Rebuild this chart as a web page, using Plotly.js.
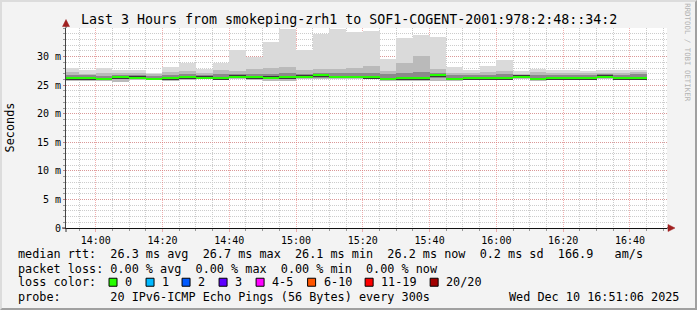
<!DOCTYPE html>
<html>
<head>
<meta charset="utf-8">
<script src="https://cdn.plot.ly/plotly-3.0.1.min.js"></script>
<style>
  html, body { margin: 0; padding: 0; background: #f3f3f3; }
  #wrap { position: relative; width: 697px; height: 310px; }
  #chart { width: 697px; height: 310px; }
  #frame { position: absolute; left: 0; top: 0; width: 697px; height: 310px; box-sizing: border-box;
           border-left: 2px solid #dcdcdc; border-top: 2px solid #dcdcdc;
           border-right: 2px solid #a0a0a0; border-bottom: 2px solid #a0a0a0; pointer-events: none; }
</style>
</head>
<body>
<div id="wrap"><div id="chart"></div><div id="frame"></div></div>
<script>
// ---- data (ms); each value covers the 5 minutes ending at the timestamp ----
const times = [
  "2025-12-10 13:55","2025-12-10 14:00","2025-12-10 14:05","2025-12-10 14:10","2025-12-10 14:15",
  "2025-12-10 14:20","2025-12-10 14:25","2025-12-10 14:30","2025-12-10 14:35","2025-12-10 14:40",
  "2025-12-10 14:45","2025-12-10 14:50","2025-12-10 14:55","2025-12-10 15:00","2025-12-10 15:05",
  "2025-12-10 15:10","2025-12-10 15:15","2025-12-10 15:20","2025-12-10 15:25","2025-12-10 15:30",
  "2025-12-10 15:35","2025-12-10 15:40","2025-12-10 15:45","2025-12-10 15:50","2025-12-10 15:55",
  "2025-12-10 16:00","2025-12-10 16:05","2025-12-10 16:10","2025-12-10 16:15","2025-12-10 16:20",
  "2025-12-10 16:25","2025-12-10 16:30","2025-12-10 16:35","2025-12-10 16:40","2025-12-10 16:45"
];
const pingMax = [28.0,27.6,28.0,27.6,27.6,27.2,28.1,28.9,27.8,28.9,31.1,30.0,32.5,34.8,31.1,34.0,34.9,34.3,34.4,29.5,33.2,33.7,33.4,28.1,27.7,28.3,29.4,27.4,27.8,27.7,27.6,27.4,27.6,27.6,27.6];
const pingP90 = [27.3,27.0,27.2,27.1,27.2,26.9,27.3,27.5,27.2,27.6,27.5,27.8,28.0,28.1,27.6,27.8,27.9,28.0,28.3,27.4,28.9,30.1,27.8,27.2,27.2,27.3,27.5,27.0,27.3,27.2,27.2,27.1,27.1,27.2,27.3];
const pingP75 = [26.8,26.7,26.6,26.8,26.8,26.6,26.8,27.0,26.8,27.0,27.0,27.0,27.0,27.1,26.9,27.2,27.2,27.2,27.1,26.9,27.2,27.3,27.2,26.8,26.8,26.8,26.9,26.7,26.8,26.8,26.8,26.7,26.9,26.8,26.9];
const medianRtt = [26.2,26.2,26.1,26.4,26.3,26.1,26.2,26.4,26.3,26.2,26.5,26.4,26.3,26.4,26.5,26.7,26.45,26.45,26.4,26.1,26.2,26.2,26.7,26.1,26.2,26.2,26.2,26.5,26.1,26.2,26.2,26.2,26.5,26.2,26.2];
const pingP25 = [26.0,26.0,25.9,26.1,26.1,26.0,26.0,26.1,26.1,26.0,26.2,26.1,26.0,26.1,26.2,26.3,26.2,26.2,26.1,25.9,26.0,26.0,26.2,25.9,26.0,26.0,26.0,26.2,25.9,26.0,26.0,26.0,26.2,26.0,26.0];
const pingMin = [25.7,25.8,25.8,25.6,25.9,25.9,25.7,25.9,26.0,25.9,26.0,25.9,25.8,25.8,26.0,26.0,26.0,26.0,26.0,25.7,25.8,25.8,25.7,25.8,25.9,25.9,25.9,26.0,25.8,25.9,25.9,25.9,26.0,25.9,25.9];

const yTickVals = [0,5,10,15,20,25,30];
const yTickText = ["0","5 m","10 m","15 m","20 m","25 m","30 m"];

const titleText = "Last 3 Hours from smokeping-zrh1 to SOF1-COGENT-2001:978:2:48::34:2";
const legendRows = [
  "median rtt:  26.3 ms avg  26.7 ms max  26.1 ms min  26.2 ms now  0.2 ms sd  166.9   am/s",
  "packet loss: 0.00 % avg  0.00 % max  0.00 % min  0.00 % now",
  "loss color:",
  "probe:       20 IPv6-ICMP Echo Pings (56 Bytes) every 300s"
];
const lossLabels = ["0","1","2","3","4-5","6-10","11-19","20/20"];
const lossColors = ["#26ff00","#00b8ff","#0059ff","#5e00ff","#ff00ff","#ff5500","#ff0000","#a10000"];
const stampText = "Wed Dec 10 16:51:06 2025";

// ---- geometry helpers (pixel -> paper) ----
const PL = 66, PR = 666.75, PT = 27.5, PB = 227.7;
const px = x => (x - PL) / (PR - PL);
const py = y => (PB - y) / (PB - PT);
const MONO = "DejaVu Sans Mono";
const nb = s => s.replace(/ /g, "\u00a0");

const STEP = 300000;
function band(lo, hi, color) {
  return {
    type: "bar", x: times, base: lo, y: hi.map((h, i) => h - lo[i]),
    width: STEP, offset: -STEP, marker: { color: color, line: { width: 0 } },
    hoverinfo: "skip", showlegend: false
  };
}
const GH = 0.17;
const traces = [
  band(pingMin, pingMax, "#dadada"),
  band(pingMin, pingP90, "#bababa"),
  band(pingP25, pingP75, "#8a8a8a"),
  band(medianRtt.map(v => v - GH - 0.08), medianRtt.map(v => v + GH + 0.05), "#3a3a3a"),
  band(medianRtt.map(v => v - GH), medianRtt.map(v => v + GH), lossColors[0])
];

const annotations = [];
annotations.push({ xref: "paper", yref: "paper", x: px(348.5), y: py(19), text: titleText,
  showarrow: false, xanchor: "center", yanchor: "middle", font: { family: MONO, size: 13.3, color: "#000" } });
annotations.push({ xref: "paper", yref: "paper", x: px(10), y: py(127), text: "Seconds", textangle: -90,
  showarrow: false, xanchor: "center", yanchor: "middle", font: { family: MONO, size: 11.8, color: "#000" } });
annotations.push({ xref: "paper", yref: "paper", x: px(687), y: py(52), text: "RRDTOOL / TOBI OETIKER", textangle: 90,
  showarrow: false, xanchor: "center", yanchor: "middle", font: { family: MONO, size: 7.4, color: "#b4b4b4" } });
const rowY = [253.5, 268.3, 282, 296.5];
legendRows.forEach((r, i) => {
  annotations.push({ xref: "paper", yref: "paper", x: px(16), y: py(rowY[i]), text: nb(r),
    showarrow: false, xanchor: "left", yanchor: "middle", font: { family: MONO, size: 11.8, color: "#000" } });
});
annotations.push({ xref: "paper", yref: "paper", x: px(681), y: py(rowY[3]), text: nb(stampText),
  showarrow: false, xanchor: "right", yanchor: "middle", font: { family: MONO, size: 11.8, color: "#000" } });

const boxX = [109, 146, 182, 219, 256, 307.5, 365, 430];
const shapes = [];
lossLabels.forEach((lab, i) => {
  shapes.push({ type: "rect", xref: "paper", yref: "paper", x0: px(boxX[i]), x1: px(boxX[i] + 8),
    y0: py(rowY[2] + 4), y1: py(rowY[2] - 4), fillcolor: lossColors[i], line: { color: "#000", width: 1 } });
  annotations.push({ xref: "paper", yref: "paper", x: px(boxX[i] + 14), y: py(rowY[2]), text: nb(lab),
    showarrow: false, xanchor: "left", yanchor: "middle", font: { family: MONO, size: 11.8, color: "#000" } });
});

// axis extensions and arrows
const ARW = "#a02020";
shapes.push({ type: "path", xref: "paper", yref: "paper", xsizemode: "pixel", ysizemode: "pixel",
  xanchor: 0, yanchor: 1, path: "M0,0 L0,7", line: { color: "#444", width: 1 } });
shapes.push({ type: "path", xref: "paper", yref: "paper", xsizemode: "pixel", ysizemode: "pixel",
  xanchor: 0, yanchor: 1, path: "M-3.5,1.5 L3.5,1.5 L0,8.5 Z", fillcolor: ARW, line: { color: ARW, width: 0.5 } });
shapes.push({ type: "path", xref: "paper", yref: "paper", xsizemode: "pixel", ysizemode: "pixel",
  xanchor: 1, yanchor: 0, path: "M0,0 L6,0", line: { color: "#111", width: 1 } });
shapes.push({ type: "path", xref: "paper", yref: "paper", xsizemode: "pixel", ysizemode: "pixel",
  xanchor: 1, yanchor: 0, path: "M1,-3.5 L1,3.5 L8,0 Z", fillcolor: ARW, line: { color: ARW, width: 0.5 } });
shapes.push({ type: "path", xref: "paper", yref: "paper", xsizemode: "pixel", ysizemode: "pixel",
  xanchor: 0, yanchor: 0, path: "M-4,0 L0,0 M0,0 L0,-4", line: { color: "#333", width: 1 } });

const MAJ = "rgba(230,110,110,0.55)";
const MIN = "#cccccc";
const layout = {
  width: 697, height: 310,
  margin: { l: PL, r: 697 - PR, t: PT, b: 310 - PB, pad: 0 },
  paper_bgcolor: "#f3f3f3", plot_bgcolor: "#ffffff",
  barmode: "overlay", bargap: 0, showlegend: false,
  xaxis: {
    type: "date", range: ["2025-12-10 13:51:06", "2025-12-10 16:51:06"],
    tick0: "2025-12-10 14:00", dtick: 1200000, tickformat: "%H:%M",
    showgrid: true, gridcolor: MAJ, griddash: "1px,1px", gridwidth: 1,
    ticks: "outside", ticklen: 3, tickcolor: MAJ,
    showline: true, linecolor: "#111", linewidth: 1, zeroline: false,
    tickfont: { family: MONO, size: 10, color: "#000" },
    minor: { dtick: STEP, showgrid: true, gridcolor: MIN, griddash: "1px,1px", gridwidth: 1,
             ticks: "outside", ticklen: 2, tickcolor: "#999" },
    fixedrange: true
  },
  yaxis: {
    range: [0, 35], tickmode: "array", tickvals: yTickVals, ticktext: yTickText,
    showgrid: true, gridcolor: MAJ, griddash: "1px,1px", gridwidth: 1,
    ticks: "outside", ticklen: 2, tickcolor: MAJ,
    showline: true, linecolor: "#444", linewidth: 1, zeroline: false,
    tickfont: { family: MONO, size: 10, color: "#000" },
    minor: { tickmode: "linear", tick0: 0, dtick: 1, showgrid: true, gridcolor: MIN, griddash: "1px,1px", gridwidth: 1,
             ticks: "outside", ticklen: 2, tickcolor: "#999" },
    fixedrange: true
  },
  annotations: annotations,
  shapes: shapes
};
Plotly.newPlot("chart", traces, layout, { staticPlot: true, displayModeBar: false });
</script>
</body>
</html>
